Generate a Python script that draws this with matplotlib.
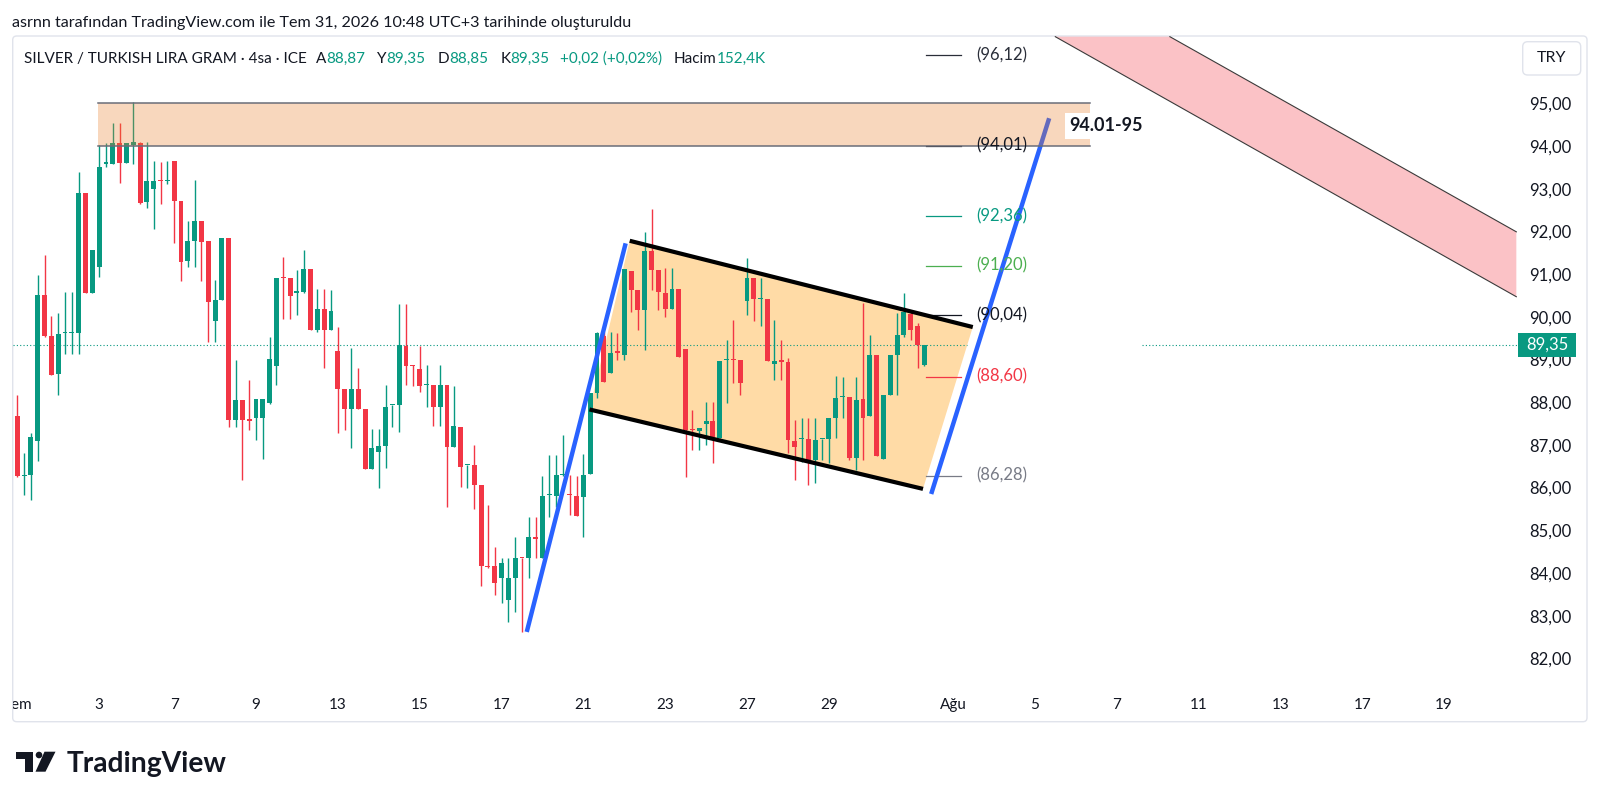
import numpy as np
import matplotlib
matplotlib.use("Agg")
import matplotlib.pyplot as plt
from matplotlib.patches import Polygon, Rectangle, FancyBboxPatch, Circle
from matplotlib.transforms import IdentityTransform, Bbox, blended_transform_factory

plt.rcParams['font.family'] = ['Lato', 'DejaVu Sans']

W, H, DPI = 1600, 802, 100
GREEN = '#089981'
RED = '#F23645'
INK = '#131722'

# 4h candles, SILVER / TRY gram, Tem 1 -> Tem 31 (bar index = position)
opens = [87.68, 86.27, 86.29, 87.09, 90.52, 89.56, 88.65, 89.61, 89.61, 89.61,
         92.91, 90.55, 91.17, 93.58, 93.59, 94.08, 93.61, 94.02, 94.08, 92.69,
         92.99, 93.19, 93.18, 93.65, 92.71, 91.31, 91.78, 92.25, 91.77, 89.91,
         90.39, 91.84, 87.58, 88.05, 87.60, 87.62, 87.62, 87.99, 88.85, 90.92,
         90.90, 90.56, 90.59, 91.13, 89.69, 90.18, 89.69, 89.20, 88.32, 87.84,
         88.32, 87.84, 86.43, 86.84, 86.97, 87.93, 87.93, 89.32, 88.87, 88.77,
         88.40, 88.40, 87.89, 88.40, 86.96, 87.42, 86.53, 86.53, 86.05, 84.16,
         84.16, 83.88, 83.37, 83.88, 84.36, 84.34, 84.84, 84.34, 85.82, 85.80,
         86.29, 85.84, 85.80, 85.79, 86.32, 88.22, 89.54, 88.69, 89.17, 89.10,
         91.08, 90.63, 90.16, 91.55, 91.10, 90.56, 90.18, 90.64, 89.24, 87.36,
         87.33, 87.48, 87.55, 87.16, 88.99, 89.00, 88.99, 90.36, 90.90, 90.41,
         90.41, 88.90, 88.96, 88.95, 87.08, 87.13, 87.13, 86.65, 87.13, 87.13,
         87.62, 88.12, 88.13, 86.69, 88.07, 87.68, 89.11, 86.67, 88.17, 89.11,
         89.58, 90.07, 89.78, 88.87]
highs = [88.17, 86.80, 87.27, 90.98, 91.45, 90.03, 90.10, 90.57, 90.59, 93.40,
         92.91, 91.56, 94.02, 94.06, 94.55, 94.55, 94.08, 95.02, 94.10, 94.10,
         93.65, 93.63, 93.65, 93.65, 92.71, 92.25, 93.20, 92.25, 91.77, 90.87,
         91.84, 91.84, 89.00, 88.05, 88.52, 88.07, 88.07, 89.52, 90.92, 91.41,
         90.90, 91.09, 91.56, 91.13, 90.66, 90.66, 90.62, 89.75, 88.32, 89.26,
         88.79, 87.84, 87.38, 87.37, 88.40, 87.94, 90.30, 90.30, 88.87, 89.32,
         88.87, 88.40, 88.87, 88.40, 88.39, 87.42, 86.54, 86.99, 86.05, 85.59,
         84.62, 84.34, 84.34, 84.85, 84.36, 85.32, 85.32, 86.26, 86.76, 86.76,
         87.23, 86.29, 86.26, 86.79, 88.21, 89.65, 89.65, 89.65, 89.63, 91.11,
         91.08, 90.63, 91.99, 92.52, 91.10, 91.14, 91.14, 90.64, 89.24, 87.82,
         87.39, 88.00, 88.01, 88.97, 89.46, 89.93, 88.99, 91.37, 90.90, 90.90,
         90.41, 89.93, 89.46, 89.03, 87.58, 87.62, 87.62, 87.62, 87.14, 87.62,
         88.62, 88.60, 88.13, 88.60, 90.32, 89.58, 89.11, 88.17, 89.11, 90.08,
         90.55, 90.16, 89.85, 89.35]
lows = [86.25, 85.82, 85.71, 86.63, 89.53, 88.64, 88.17, 89.14, 89.14, 89.14,
        90.55, 90.55, 90.94, 93.50, 93.59, 93.14, 93.61, 93.58, 92.65, 92.54,
        92.05, 92.65, 93.10, 91.74, 90.84, 91.17, 91.17, 90.84, 89.42, 89.42,
        90.39, 87.43, 87.43, 86.18, 87.35, 87.11, 86.66, 87.95, 88.40, 89.96,
        89.96, 90.04, 90.55, 89.69, 89.65, 88.79, 89.69, 87.27, 87.35, 86.92,
        87.84, 86.43, 86.43, 86.00, 86.47, 87.41, 87.31, 88.40, 88.38, 88.24,
        87.89, 87.44, 87.44, 85.55, 86.96, 86.02, 86.00, 85.50, 83.70, 84.11,
        83.49, 83.30, 82.86, 83.09, 82.62, 83.88, 84.34, 84.34, 85.32, 85.55,
        86.26, 85.36, 85.34, 84.84, 86.32, 88.11, 88.48, 88.69, 88.99, 89.00,
        90.12, 89.70, 89.22, 90.63, 90.16, 90.00, 90.18, 89.07, 86.24, 86.88,
        86.88, 87.00, 86.57, 87.16, 87.97, 88.44, 88.17, 90.04, 89.91, 89.79,
        88.97, 88.52, 88.52, 86.80, 86.18, 86.59, 86.06, 86.10, 86.65, 86.57,
        87.16, 87.62, 86.65, 86.41, 86.65, 87.68, 86.73, 86.67, 88.17, 88.17,
        89.53, 89.46, 88.80, 88.85]
closes = [86.27, 86.28, 87.18, 90.52, 89.56, 88.64, 89.59, 89.62, 89.62, 92.91,
          90.55, 91.56, 93.50, 93.63, 94.06, 93.61, 94.08, 94.10, 92.67, 93.18,
          93.18, 93.17, 93.19, 92.71, 91.29, 91.77, 92.25, 91.76, 90.35, 90.39,
          91.84, 87.58, 88.05, 87.58, 87.56, 88.07, 88.07, 89.01, 90.92, 90.90,
          90.49, 90.60, 91.13, 89.69, 90.18, 89.69, 90.14, 88.32, 87.84, 88.32,
          87.84, 86.43, 86.92, 86.98, 87.89, 87.94, 89.35, 88.85, 88.85, 88.38,
          88.41, 87.89, 88.40, 86.96, 87.44, 86.49, 86.54, 86.06, 84.16, 84.14,
          83.76, 84.24, 83.88, 84.34, 84.34, 84.84, 84.79, 85.80, 85.83, 86.29,
          86.30, 85.83, 85.34, 86.29, 88.21, 89.61, 88.48, 89.16, 89.16, 91.11,
          90.63, 90.16, 91.55, 91.10, 90.59, 90.19, 90.64, 89.07, 87.35, 87.35,
          87.39, 87.55, 87.18, 88.97, 89.00, 88.99, 88.46, 90.90, 90.41, 90.42,
          88.97, 88.97, 88.95, 87.12, 86.96, 87.14, 86.65, 87.12, 87.14, 87.62,
          88.09, 88.13, 86.69, 88.05, 87.62, 89.11, 86.73, 88.17, 89.11, 89.58,
          90.12, 89.69, 89.33, 89.35]
volume_k = 152.4

# drawings, as (bar index, price)
zone_low, zone_high = 94.01, 95.00
zone_x = (11.9, 157.3)
zone_label = '94.01-95'
zone_label_at = (159.6, 94.47)
channel_upper = [(89.8, 91.78), (140.1, 89.76)]
channel_lower = [(83.9, 87.83), (132.8, 85.97)]
blue_left = [(74.7, 82.62), (89.2, 91.72)]
blue_right = [(134.0, 85.85), (151.3, 94.65)]
band_upper = [(169.0, 96.56), (219.8, 91.99)]
band_lower = [(152.2, 96.56), (219.8, 90.47)]
fib_levels = [96.12, 94.01, 92.36, 91.20, 90.04, 88.60, 86.28]
fib_colors = ['#2a2e39', INK, GREEN, '#4CAF50', INK, RED, '#787B86']
fib_x = (133.2, 138.3)
fib_label_x = 144.3
price_gap = (139.2, 164.9)

price_ticks = list(range(82, 96))
day_ticks = [12, 23, 35, 47, 59, 71, 83, 95, 107, 119,
             137.2, 149.2, 161.2, 173.2, 185.2, 197.2, 209.2]
day_labels = ['3', '7', '9', '13', '15', '17', '21', '23', '27', '29',
              'Ağu', '5', '7', '11', '13', '17', '19']


def tr(v, nd=2):
    return f'{v:.{nd}f}'.replace('.', ',')


fig = plt.figure(figsize=(W / DPI, H / DPI), dpi=DPI)
fig.patch.set_facecolor('white')
px = IdentityTransform()
r = fig.canvas.get_renderer()

# chart pane frame (behind the axes)
fig.patches.append(FancyBboxPatch((12.7, H - 721.7), 1587 - 12.7, 721.7 - 36,
                                  boxstyle='round,pad=0,rounding_size=4',
                                  fc='white', ec='#E0E3EB', lw=1, transform=px, zorder=-5))

ax = fig.add_axes([12.7 / W, 1 - 686 / H, (1517.3 - 12.7) / W, (686 - 36) / H])
ax.set_zorder(1)
ax.set_xlim((12.7 - 17.3) / 6.82, (1517.3 - 17.3) / 6.82)
ax.set_ylim(95 - (686 - 103.3) / 42.7, 95 + (103.3 - 36) / 42.7)
ax.patch.set_alpha(0)
for s in ax.spines.values():
    s.set_visible(False)

# candles
o, h, l, c = map(np.array, (opens, highs, lows, closes))
idx = np.arange(len(o))
cols = np.where(c >= o, GREEN, RED)
ax.vlines(idx, l, h, colors=cols, lw=1.0, zorder=3)
ax.bar(idx, np.maximum(np.abs(c - o), 0.03), bottom=np.minimum(o, c), width=0.72,
       color=cols, lw=0, zorder=4)

# flag channel
ax.add_patch(Polygon([channel_lower[0], channel_upper[0], channel_upper[1], channel_lower[1]],
                     closed=True, fc='#FF9800', alpha=0.35, lw=0, zorder=1))
for seg in (channel_upper, channel_lower):
    ax.plot(*zip(*seg), color='black', lw=3.0, solid_capstyle='butt', zorder=5)

# pink descending band
ax.add_patch(Polygon([band_lower[0], band_upper[0], band_upper[1], band_lower[1]],
                     closed=True, fc=RED, alpha=0.3, lw=0, zorder=1))
for seg in (band_upper, band_lower):
    ax.plot(*zip(*seg), color='#3a3a3a', lw=0.8, zorder=1.5)

# last price dotted line
x0, x1 = ax.get_xlim()
last = closes[-1]
ax.plot([x0, price_gap[0]], [last, last], color=GREEN, lw=0.8, ls=(0, (1, 2)), zorder=2)
ax.plot([price_gap[1], x1], [last, last], color=GREEN, lw=0.8, ls=(0, (1, 2)), zorder=2)

# fib levels
for lv, col in zip(fib_levels, fib_colors):
    ax.plot(fib_x, [lv, lv], color=col, lw=0.9, zorder=2)
    ax.text(fib_label_x, lv, f'({tr(lv)})', color=col, fontsize=12, ha='center',
            va='center', zorder=8)

# blue legs
for seg in (blue_left, blue_right):
    ax.plot(*zip(*seg), color='#2962FF', lw=3.2, solid_capstyle='butt', zorder=6)

# target zone
ax.add_patch(Rectangle((zone_x[0], zone_low), zone_x[1] - zone_x[0], zone_high - zone_low,
                       fc='#EB7D26', alpha=0.3, lw=0, zorder=7))
for lv in (zone_low, zone_high):
    ax.plot(zone_x, [lv, lv], color='#6a6d78', lw=1.1, zorder=7)
ax.text(*zone_label_at, zone_label, fontsize=13, fontweight='bold', color=INK,
        ha='center', va='center', zorder=9,
        bbox=dict(boxstyle='square,pad=0.25', fc='white', ec='none'))

# price scale
ax.yaxis.tick_right()
ax.set_yticks(price_ticks)
ax.set_yticklabels([tr(v) for v in price_ticks])
ax.tick_params(axis='y', length=0, pad=8.4, labelsize=12, labelcolor=INK)
ax.set_xticks([])
blend = blended_transform_factory(ax.transAxes, ax.transData)
ax.add_patch(Rectangle((1.0003, last - 0.281), 58.3 / 1504.6, 0.562, transform=blend,
                       fc=GREEN, ec='none', clip_on=False, zorder=10))
ax.text(1.0003 + 29.2 / 1504.6, last, tr(last), transform=blend, color='white',
        fontsize=12, ha='center', va='center', clip_on=False, zorder=11)

# time scale
tblend = blended_transform_factory(ax.transData, px)
for pos, lab in zip(day_ticks, day_labels):
    ax.text(pos, H - 709.3, lab, transform=tblend, fontsize=11, color=INK,
            ha='center', va='baseline', clip_on=False)
tm = fig.text(32 / W, 1 - 709.3 / H, 'Tem', fontsize=11, color=INK, ha='right', va='baseline')
tm.set_clip_box(Bbox.from_extents(12.7, 0, W, H))
tm.set_clip_on(True)

# currency box
fig.patches.append(FancyBboxPatch((1522.7, H - 75), 58, 33.3,
                                  boxstyle='round,pad=0,rounding_size=5',
                                  fc='white', ec='#E0E3EB', lw=1, transform=px, zorder=2))
fig.text(1551.7 / W, 1 - 58.3 / H, 'TRY', fontsize=11.5, color=INK, ha='center', va='center')


def fit(t, target):
    w = t.get_window_extent(renderer=r).width
    t.set_fontsize(t.get_fontsize() * target / w)


# header
hd = fig.text(12.2 / W, 1 - 26.7 / H,
              'asrnn tarafından TradingView.com ile Tem 31, 2026 10:48 UTC+3 tarihinde oluşturuldu',
              fontsize=11, color=INK, ha='left', va='baseline')
fit(hd, 620)

# legend line
chg = closes[-1] - closes[-2]
pieces = [('SILVER / TURKISH LIRA GRAM · 4sa · ICE', INK, 0),
          ('A', INK, 9), (tr(opens[-1]), GREEN, 0),
          ('Y', INK, 12), (tr(highs[-1]), GREEN, 0),
          ('D', INK, 12), (tr(lows[-1]), GREEN, 0),
          ('K', INK, 12), (tr(closes[-1]), GREEN, 0),
          (f'+{tr(chg)} (+{tr(chg / closes[-2] * 100)}%)', GREEN, 11),
          ('Hacim', INK, 11), (f'{tr(volume_k, 1)}K', GREEN, 1)]


def legend(size):
    out, x = [], 24.0
    for s, col, gap in pieces:
        x += gap
        t = fig.text(x / W, 1 - 62.7 / H, s, fontsize=size, color=col, ha='left', va='baseline')
        x += t.get_window_extent(renderer=r).width
        out.append(t)
    return out, x - 24.0


ts, width = legend(12)
gaps = sum(p[2] for p in pieces)
for t in ts:
    t.remove()
legend(12 * (738 - gaps) / (width - gaps))

# watermark logo
fig.patches.append(Polygon([(16, H - 751.7), (33.3, H - 751.7), (33.3, H - 771.7),
                            (25, H - 771.7), (25, H - 759.3), (16, H - 759.3)],
                           closed=True, fc=INK, ec='none', transform=px))
fig.patches.append(Circle((39, H - 755), 3.3, fc=INK, ec='none', transform=px))
fig.patches.append(Polygon([(44.5, H - 751.7), (55.5, H - 751.7), (45.5, H - 771.7),
                            (35.5, H - 771.7)], closed=True, fc=INK, ec='none', transform=px))
lg = fig.text(66.7 / W, 1 - 771.7 / H, 'TradingView', fontsize=20, fontweight='bold',
              color=INK, ha='left', va='baseline')
fit(lg, 160)

fig.savefig('out.png', dpi=DPI, facecolor='white')
